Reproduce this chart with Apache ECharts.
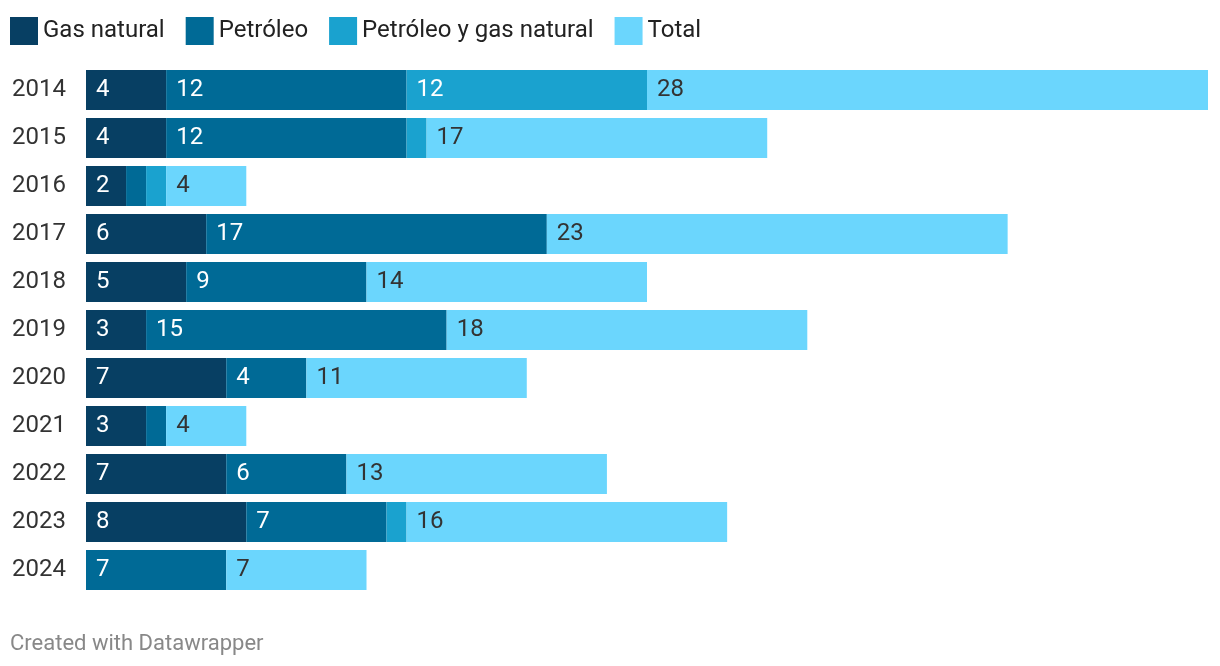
<!DOCTYPE html>
<html><head><meta charset="utf-8">
<script src="https://cdn.jsdelivr.net/npm/echarts@6/dist/echarts.min.js"></script>
<style>html,body{margin:0;padding:0;background:#fff}#c{width:1220px;height:666px}</style>
</head><body><div id="c"></div>
<script>
const years = ['2014','2015','2016','2017','2018','2019','2020','2021','2022','2023','2024'];
const gasNatural = [4,4,2,6,5,3,7,3,7,8,0];
const petroleo = [12,12,1,17,9,15,4,1,6,7,7];
const petroleoGas = [12,1,1,0,0,0,0,0,0,1,0];
const total = [28,17,4,23,14,18,11,4,13,16,7];

const names = ['Gas natural','Petróleo','Petróleo y gas natural','Total'];
const colors = ['#073f63','#006a96','#1aa2cf','#6bd6fd'];
const datasets = [gasNatural, petroleo, petroleoGas, total];

const chart = echarts.init(document.getElementById('c'));
chart.setOption({
  animation: false,
  textStyle: {fontFamily: 'Roboto'},
  legend: {
    left: 5, top: 12, itemWidth: 28, itemHeight: 28, itemGap: 21, icon: 'rect',
    textStyle: {fontSize: 24, color: '#222', fontFamily: 'Roboto'},
    data: names
  },
  grid: {left: 86, right: 12, top: 66, bottom: 72},
  xAxis: {type: 'value', min: 0, max: 56, show: false},
  yAxis: {
    type: 'category', data: years, inverse: true,
    axisLine: {show: false}, axisTick: {show: false},
    axisLabel: {align: 'left', margin: 74, fontSize: 24, color: '#333', fontFamily: 'Roboto'}
  },
  graphic: [{
    type: 'text', left: 10, top: 633,
    style: {text: 'Created with Datawrapper', fontSize: 22, fill: '#888', fontFamily: 'Roboto'}
  }],
  series: datasets.map((d, i) => ({
    name: names[i], type: 'bar', stack: 's', barWidth: 40,
    data: d,
    itemStyle: {color: colors[i]},
    label: {
      show: true, position: 'insideLeft', distance: 10,
      fontSize: 24, fontFamily: 'Roboto',
      color: i === 3 ? '#333' : '#fff',
      formatter: p => p.value >= 2 ? String(p.value) : ''
    }
  }))
});
</script></body></html>
